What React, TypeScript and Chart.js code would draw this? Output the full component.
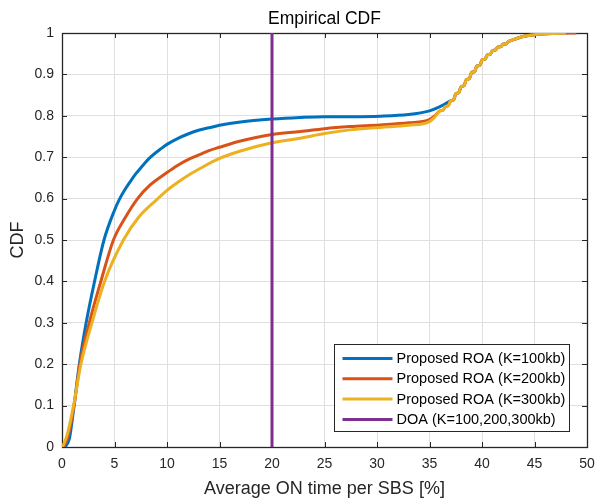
import React, { useEffect, useRef } from "react";
import { Chart, registerables } from "chart.js";

Chart.register(...registerables);

// ---------- text ----------
const TITLE = "Empirical CDF";
const X_LABEL = "Average ON time per SBS [%]";
const Y_LABEL = "CDF";
const SERIES_LABELS = [
  "Proposed ROA (K=100kb)",
  "Proposed ROA (K=200kb)",
  "Proposed ROA (K=300kb)",
  "DOA (K=100,200,300kb)",
];
const SERIES_COLORS = ["#0072BD", "#D95319", "#EDB120", "#7E2F8E"];

// ---------- ticks ----------
const X_TICKS = [0, 5, 10, 15, 20, 25, 30, 35, 40, 45, 50];
const X_TICK_LABELS = ["0", "5", "10", "15", "20", "25", "30", "35", "40", "45", "50"];
const Y_TICKS = [0, 0.1, 0.2, 0.3, 0.4, 0.5, 0.6, 0.7, 0.8, 0.9, 1];
const Y_TICK_LABELS = ["0", "0.1", "0.2", "0.3", "0.4", "0.5", "0.6", "0.7", "0.8", "0.9", "1"];

// ---------- data ----------
// shared staircase part of the CDFs (upper region)
const STAIR_EARLY_X = [36.0, 36.3, 36.5, 36.8, 37.0];
const STAIR_EARLY_Y = [0.812, 0.814, 0.822, 0.825, 0.836];
const STAIR_X = [37.3, 37.5, 37.8, 38.0, 38.3, 38.5, 38.8, 39.0, 39.3, 39.5, 39.8, 40.0, 40.3, 40.5, 40.8, 41.0, 41.3, 41.5, 41.8, 42.0, 42.3, 42.5, 43, 44, 45, 46, 47];
const STAIR_Y = [0.839, 0.853, 0.856, 0.87, 0.873, 0.887, 0.89, 0.904, 0.907, 0.92, 0.922, 0.935, 0.937, 0.947, 0.949, 0.957, 0.959, 0.966, 0.967, 0.973, 0.974, 0.979, 0.984, 0.992, 0.996, 0.998, 0.999];

const BLUE_X = [0.3, 0.7, 1.15, 1.65, 2.3, 3.1, 4.0, 5.0, 5.5, 6.0, 6.5, 7.0, 7.5, 8.3, 9.5, 10, 11, 12, 13, 14, 15, 17, 20, 22.7, 25, 27.5, 30.3, 33, 35, 36, 36.5, 37.0];
const BLUE_Y = [0, 0.02, 0.1, 0.2, 0.3, 0.4, 0.5, 0.572, 0.6, 0.622, 0.641, 0.659, 0.674, 0.697, 0.722, 0.731, 0.745, 0.756, 0.765, 0.771, 0.777, 0.785, 0.792, 0.796, 0.798, 0.798, 0.799, 0.803, 0.812, 0.822, 0.829, 0.836];
const BLUE_END_X = [47.5];
const BLUE_END_Y = [1];

const ORANGE_X = [0.1, 0.5, 1.15, 1.7, 2.6, 3.7, 4.9, 6.0, 7.2, 8.4, 10, 11, 12, 13.1, 14, 15, 17, 20, 22.7, 25, 27.4, 30.3, 33, 35, 35.5];
const ORANGE_Y = [0, 0.02, 0.1, 0.2, 0.3, 0.4, 0.5, 0.553, 0.6, 0.633, 0.663, 0.68, 0.694, 0.706, 0.716, 0.724, 0.739, 0.755, 0.762, 0.769, 0.774, 0.778, 0.783, 0.791, 0.8];
const ORANGE_END_X = [47.5, 49];
const ORANGE_END_Y = [0.9995, 1];

const YELLOW_X = [0.05, 0.5, 1.1, 1.8, 2.85, 4.05, 5.85, 7.3, 9.0, 10, 11, 12, 13.1, 15, 17, 20, 22.7, 25, 27.4, 30.3, 33, 35, 35.5];
const YELLOW_Y = [0, 0.03, 0.1, 0.2, 0.3, 0.4, 0.5, 0.555, 0.597, 0.62, 0.639, 0.656, 0.672, 0.697, 0.715, 0.735, 0.746, 0.757, 0.766, 0.772, 0.777, 0.786, 0.797];
const YELLOW_END_X = [48];
const YELLOW_END_Y = [1];

const DOA_X = [20, 20];
const DOA_Y = [0, 1];

const FONT_FAMILY = '"Liberation Sans", Arial, Helvetica, sans-serif';
const AXIS_COLOR = "#262626";

function pts(xs: number[], ys: number[]) {
  return xs.map((x, i) => ({ x, y: ys[i] }));
}

const framePlugin = {
  id: "frame",
  beforeDatasetsDraw(chart: any) {
    const { ctx, chartArea, scales } = chart;
    const { left, right, top, bottom } = chartArea;
    const L = 5;
    ctx.save();
    ctx.strokeStyle = AXIS_COLOR;
    ctx.lineWidth = 1;
    ctx.beginPath();
    X_TICKS.forEach((v) => {
      const px = Math.round(scales.x.getPixelForValue(v)) + 0.5;
      ctx.moveTo(px, bottom);
      ctx.lineTo(px, bottom - L);
      ctx.moveTo(px, top);
      ctx.lineTo(px, top + L);
    });
    Y_TICKS.forEach((v) => {
      const py = Math.round(scales.y.getPixelForValue(v)) + 0.5;
      ctx.moveTo(left, py);
      ctx.lineTo(left + L, py);
      ctx.moveTo(right, py);
      ctx.lineTo(right - L, py);
    });
    ctx.stroke();
    ctx.lineWidth = 1.3;
    ctx.strokeRect(Math.round(left) + 0.5, Math.round(top) + 0.5, Math.round(right - left), Math.round(bottom - top));
    ctx.restore();
  },
  afterDraw(chart: any) {
    const { ctx, chartArea } = chart;
    ctx.save();
    // title
    ctx.font = `17.5px ${FONT_FAMILY}`;
    ctx.fillStyle = "#000";
    ctx.textAlign = "center";
    ctx.textBaseline = "middle";
    ctx.fillText(TITLE, (chartArea.left + chartArea.right) / 2, 19);

    // legend
    ctx.font = `14.5px ${FONT_FAMILY}`;
    const datasets = chart.data.datasets;
    const tw = Math.max(...datasets.map((d: any) => ctx.measureText(d.label).width));
    const padL = 8, lineLen = 50, gap = 4, padR = 4;
    const w = Math.round(padL + lineLen + gap + tw + padR);
    const h = 87;
    const rowH = 20.3;
    const bx = Math.round(chartArea.right - 18 - w) + 0.5;
    const by = Math.round(chartArea.bottom - 16 - h) + 0.5;
    ctx.fillStyle = "#fff";
    ctx.fillRect(bx, by, w, h);
    ctx.strokeStyle = AXIS_COLOR;
    ctx.lineWidth = 1;
    ctx.strokeRect(bx, by, w, h);
    ctx.textAlign = "left";
    ctx.textBaseline = "middle";
    datasets.forEach((d: any, i: number) => {
      const cy = by + 14 + i * rowH;
      ctx.strokeStyle = d.borderColor;
      ctx.lineWidth = 3;
      ctx.beginPath();
      ctx.moveTo(bx + padL, cy);
      ctx.lineTo(bx + padL + lineLen, cy);
      ctx.stroke();
      ctx.fillStyle = "#000";
      ctx.fillText(d.label, bx + padL + lineLen + gap, cy + 0.5);
    });
    ctx.restore();
  },
};

export default function App() {
  const ref = useRef<HTMLCanvasElement | null>(null);

  useEffect(() => {
    document.body.style.margin = "0";
    if (!ref.current) return;
    const seriesData = [
      pts(BLUE_X, BLUE_Y).concat(pts(STAIR_X, STAIR_Y), pts(BLUE_END_X, BLUE_END_Y)),
      pts(ORANGE_X, ORANGE_Y).concat(pts(STAIR_EARLY_X, STAIR_EARLY_Y), pts(STAIR_X, STAIR_Y), pts(ORANGE_END_X, ORANGE_END_Y)),
      pts(YELLOW_X, YELLOW_Y).concat(pts(STAIR_EARLY_X, STAIR_EARLY_Y), pts(STAIR_X, STAIR_Y), pts(YELLOW_END_X, YELLOW_END_Y)),
      pts(DOA_X, DOA_Y),
    ];
    const orders = [3, 2, 1, 0];
    const tickFont = { family: FONT_FAMILY, size: 14 };
    const labelFont = { family: FONT_FAMILY, size: 18, lineHeight: 1 };
    const chart = new Chart(ref.current, {
      type: "line",
      data: {
        datasets: seriesData.map((data, i) => ({
          label: SERIES_LABELS[i],
          data,
          borderColor: SERIES_COLORS[i],
          backgroundColor: SERIES_COLORS[i],
          borderWidth: 3,
          pointRadius: 0,
          cubicInterpolationMode: i < 3 ? "monotone" : "default",
          tension: 0,
          fill: false,
          order: orders[i],
        })),
      },
      options: {
        animation: false,
        responsive: false,
        maintainAspectRatio: false,
        layout: { padding: { top: 33, right: 9, left: 0, bottom: 0 } },
        plugins: {
          legend: { display: false },
          title: { display: false },
          tooltip: { enabled: false },
        },
        scales: {
          x: {
            type: "linear",
            min: 0,
            max: 50,
            afterFit: (s: any) => {
              s.height = 51;
              s.paddingLeft = 0;
              s.paddingRight = 0;
            },
            afterBuildTicks: (s: any) => {
              s.ticks = X_TICKS.map((v) => ({ value: v }));
            },
            ticks: {
              callback: (_v: any, i: number) => X_TICK_LABELS[i],
              font: tickFont,
              color: AXIS_COLOR,
              padding: 9,
              maxRotation: 0,
              autoSkip: false,
            },
            grid: { color: "#dfdfdf", lineWidth: 1, drawTicks: false },
            border: { display: false },
            title: {
              display: true,
              text: X_LABEL,
              font: labelFont,
              color: AXIS_COLOR,
              padding: { top: 0, bottom: 0 },
            },
          },
          y: {
            type: "linear",
            min: 0,
            max: 1,
            afterFit: (s: any) => {
              s.width = 62;
              s.paddingTop = 0;
              s.paddingBottom = 0;
            },
            afterBuildTicks: (s: any) => {
              s.ticks = Y_TICKS.map((v) => ({ value: v }));
            },
            ticks: {
              callback: (_v: any, i: number) => Y_TICK_LABELS[i],
              font: tickFont,
              color: AXIS_COLOR,
              padding: 8,
              autoSkip: false,
            },
            grid: { color: "#dfdfdf", lineWidth: 1, drawTicks: false },
            border: { display: false },
            title: {
              display: true,
              text: Y_LABEL,
              font: labelFont,
              color: AXIS_COLOR,
              padding: { top: 9, bottom: 0 },
            },
          },
        },
      },
      plugins: [framePlugin],
    } as any);
    return () => chart.destroy();
  }, []);

  return (
    <div style={{ width: 596, height: 498, background: "#fff" }}>
      <canvas ref={ref} width={596} height={498} style={{ display: "block" }} />
    </div>
  );
}
